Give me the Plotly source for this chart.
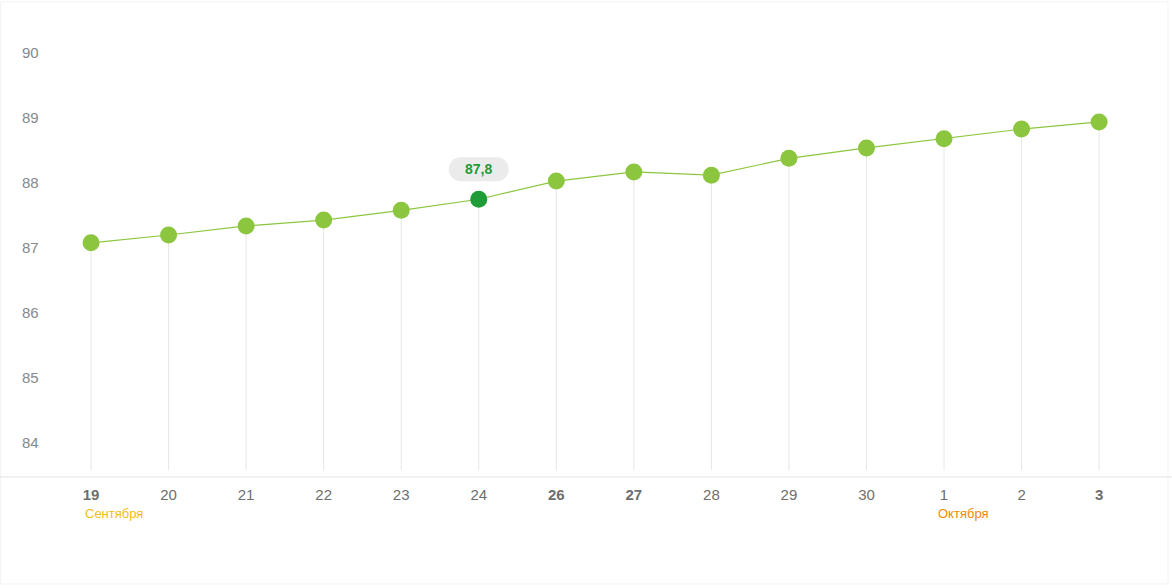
import plotly.graph_objects as go

days = ["19", "20", "21", "22", "23", "24", "26", "27", "28", "29", "30", "1", "2", "3"]
bold_days = ["19", "26", "27", "3"]
values = [87.08, 87.20, 87.34, 87.43, 87.58, 87.75, 88.03, 88.17, 88.12, 88.38, 88.54, 88.68, 88.83, 88.94]
month_labels = {"19": ("Сентября", "#F2BE0F"), "1": ("Октября", "#F08A00")}
highlight_day = "24"
highlight_label = "87,8"
y_ticks = [84, 85, 86, 87, 88, 89, 90]

x_idx = list(range(len(days)))
Y_MIN, Y_MAX = 83.477, 90.508
DROP_END = 83.58

GREEN = "#8CC63F"
DARK_GREEN = "#1F9B38"
TEXT = "#777777"

fig = go.Figure()

# vertical drop lines
dx, dy = [], []
for i, v in zip(x_idx, values):
    dx += [i, i, None]
    dy += [v, DROP_END, None]
fig.add_trace(go.Scatter(x=dx, y=dy, mode="lines",
                         line=dict(color="#E6E6E6", width=1),
                         hoverinfo="skip", showlegend=False))

hi = days.index(highlight_day)
colors = [DARK_GREEN if d == highlight_day else GREEN for d in days]
fig.add_trace(go.Scatter(x=x_idx, y=values, mode="lines+markers",
                         line=dict(color=GREEN, width=1.2),
                         marker=dict(size=17, color=colors, line=dict(width=0)),
                         showlegend=False))

# pill behind highlight label
k = 6.63
path = (f"M -18,18 L 18,18 C {18+k},18 30,{30-k} 30,30 C 30,{30+k} {18+k},42 18,42 "
        f"L -18,42 C {-18-k},42 -30,{30+k} -30,30 C -30,{30-k} {-18-k},18 -18,18 Z")
fig.add_shape(type="path", xref="x", yref="y", xsizemode="pixel", ysizemode="pixel",
              xanchor=hi, yanchor=values[hi], path=path,
              fillcolor="#EBEBEB", line=dict(width=0), layer="above")
fig.add_annotation(x=hi, y=values[hi], text=f"<b>{highlight_label}</b>", showarrow=False,
                   yshift=30, font=dict(family="Liberation Sans, Arial", size=14, color=DARK_GREEN))

# month labels
for d, (txt, col) in month_labels.items():
    fig.add_annotation(x=days.index(d), y=0, yref="paper", text=txt, showarrow=False,
                       xanchor="left", yanchor="middle", xshift=-8, yshift=-36,
                       font=dict(family="Liberation Sans, Arial", size=13, color=col))

# bottom axis line across full width
fig.add_shape(type="line", xref="paper", yref="paper", x0=0, x1=1, y0=0, y1=0,
              line=dict(color="#E3E3E3", width=1))

# faint card border
fig.add_shape(type="rect", xref="paper", yref="paper", x0=0.0005, x1=0.9966,
              y0=-0.234, y1=1.04, line=dict(color="#F3F3F3", width=1), layer="below")

ticktext = [f"<b>{d}</b>" if d in bold_days else d for d in days]

fig.update_layout(
    width=1172, height=588,
    margin=dict(l=0, r=0, t=20, b=111),
    paper_bgcolor="white", plot_bgcolor="white",
    font=dict(family="Liberation Sans, Arial", color=TEXT),
    xaxis=dict(range=[-1.174, 13.94], tickvals=x_idx, ticktext=ticktext,
               showgrid=False, zeroline=False, showline=False, ticks="",
               tickfont=dict(size=15, color="#6E6E6E"), ticklabelstandoff=7),
    yaxis=dict(range=[Y_MIN, Y_MAX], tickvals=y_ticks, showgrid=False, zeroline=False,
               showline=False, ticks="", ticklabelposition="inside",
               ticklabelstandoff=19,
               tickfont=dict(size=15, color="#888888")),
)

fig.write_html("out.html", config={"displayModeBar": False},
               post_script="document.body.style.margin='0';")
